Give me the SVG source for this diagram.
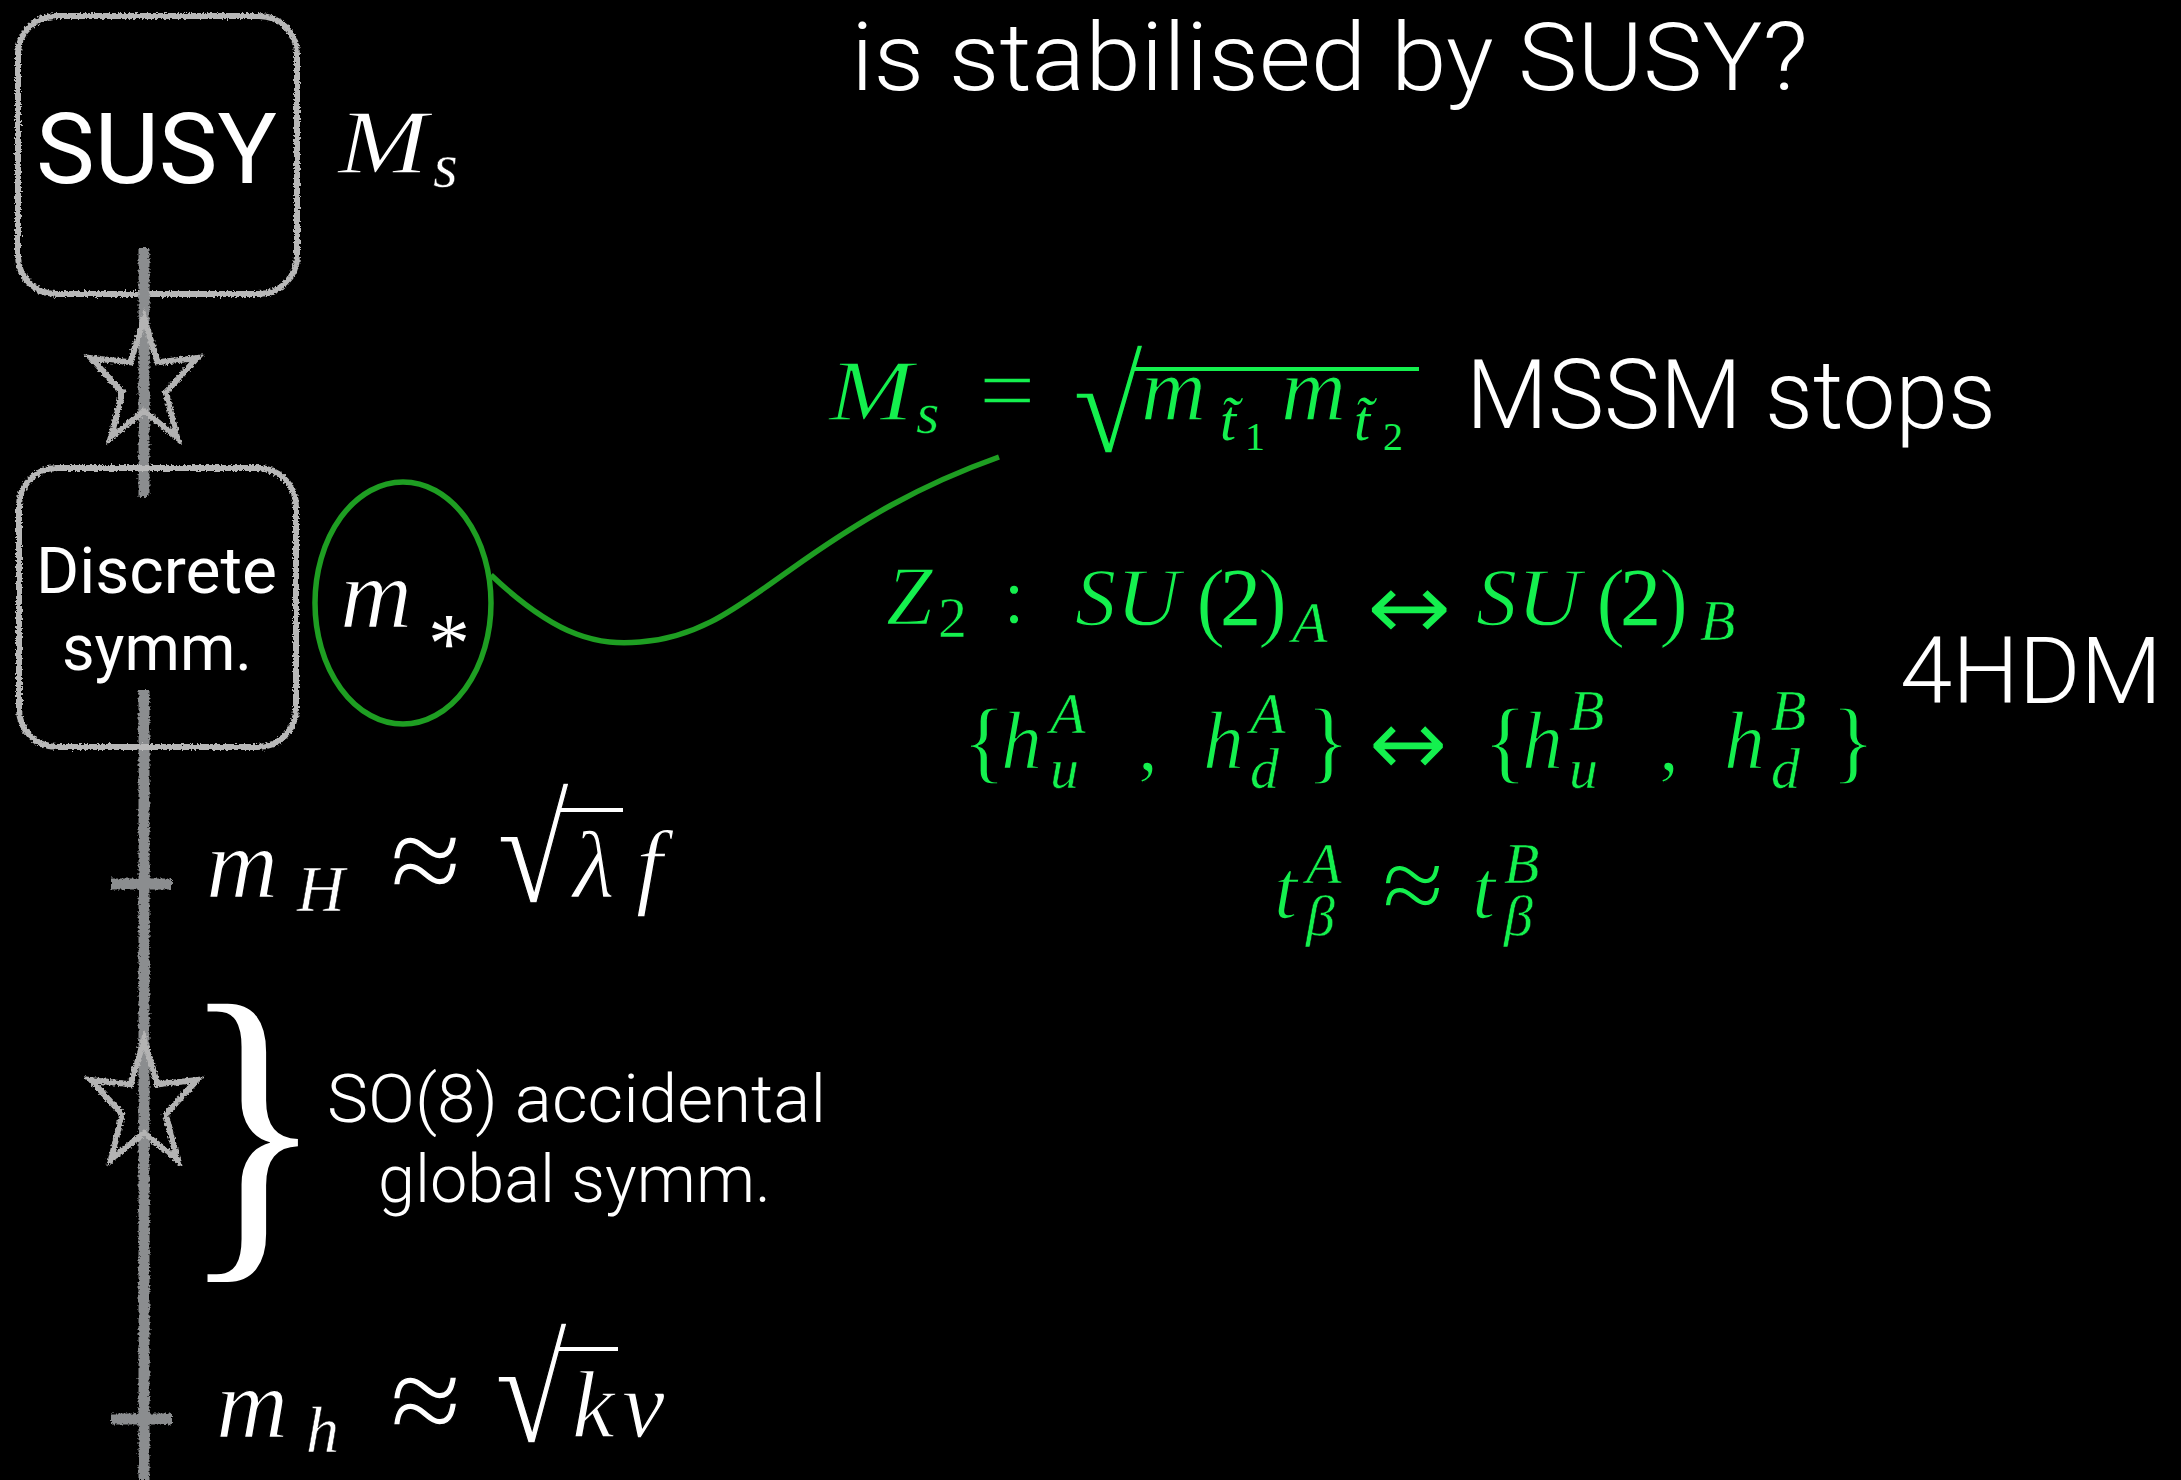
<svg xmlns="http://www.w3.org/2000/svg" width="2181" height="1480" viewBox="0 0 2181 1480">
<defs>
<filter id="chalk" x="-10%" y="-10%" width="120%" height="120%">
<feTurbulence type="fractalNoise" baseFrequency="0.45" numOctaves="2" seed="3" result="n"/>
<feDisplacementMap in="SourceGraphic" in2="n" scale="5" xChannelSelector="R" yChannelSelector="G"/>
</filter>
<polygon id="starShape" points="0,-66 13.5,-21.8 53,-26 21.8,8.3 33,53.4 0,27 -33,53.4 -21.8,8.3 -53,-26 -13.5,-21.8"/>
</defs>
<style>
.sans{font-family:"Helvetica Neue",Roboto,"Liberation Sans",Arial,sans-serif;font-weight:300;fill:#fff}
.reg{font-weight:400}
.math{font-family:"Liberation Serif","Times New Roman",serif;font-style:normal;stroke:#000;stroke-width:0}
.arr{font-family:"DejaVu Sans","Liberation Sans",sans-serif;font-style:normal}
.it{font-style:italic}
.th{stroke-width:1.3}
.md{stroke-width:0.5}
.wh{fill:#fff}
.gr{fill:#14f04e}
.box{fill:none;stroke:#b8b8b8;stroke-width:6}
.axis{stroke:#8b8d8f;stroke-width:11;fill:none}
.star{fill:none;stroke:#b3b3b3;stroke-width:6;stroke-linejoin:miter}
.link{fill:none;stroke:#1e9e22;stroke-width:5.5}
.vinW{stroke:#fff;stroke-width:4}
.vinG{stroke:#14f04e;stroke-width:4}
</style>
<rect width="2181" height="1480" fill="#000"/>

<g id="title">
<text class="sans" x="851" y="90" font-size="95" textLength="957" lengthAdjust="spacingAndGlyphs">is stabilised by SUSY?</text>
</g>

<g id="node-susy">
<rect class="box" x="18" y="16" width="279" height="278" rx="38" filter="url(#chalk)"/>
<text class="sans reg" x="36" y="183" font-size="98" textLength="241" lengthAdjust="spacingAndGlyphs">SUSY</text>
</g>
<g id="label-Ms">
<text class="math wh"><tspan class="it th" x="338" y="173" font-size="92" textLength="90" lengthAdjust="spacingAndGlyphs">M</tspan><tspan class="it md" x="433" y="187" font-size="64">s</tspan></text>
</g>

<g id="scale-axis" filter="url(#chalk)">
<line class="axis" x1="144" y1="248" x2="144" y2="497"/>
<line class="axis" x1="144" y1="690" x2="144" y2="1480"/>
<line class="axis" x1="111" y1="884" x2="172" y2="884" stroke-width="10"/>
<line class="axis" x1="111" y1="1419" x2="172" y2="1419" stroke-width="10"/>
</g>

<g id="node-star1" filter="url(#chalk)">
<use href="#starShape" class="star" transform="translate(144,384)"/>
</g>
<g id="node-star2" filter="url(#chalk)">
<use href="#starShape" class="star" transform="translate(144,1106)"/>
</g>

<g id="node-discrete">
<rect class="box" x="19" y="468" width="277" height="279" rx="38" filter="url(#chalk)"/>
<text class="sans reg" x="36" y="593" font-size="64" textLength="241" lengthAdjust="spacingAndGlyphs">Discrete</text>
<text class="sans reg" x="62" y="670" font-size="64" textLength="190" lengthAdjust="spacingAndGlyphs">symm.</text>
</g>

<g id="node-mstar">
<ellipse cx="403" cy="603" rx="88" ry="121" fill="none" stroke="#1e9e22" stroke-width="5.5"/>
<text class="math wh"><tspan class="it th" x="340" y="627" font-size="100">m</tspan><tspan x="428" y="672" font-size="84">*</tspan></text>
</g>

<g id="connectors">
<path class="link" d="M491,575 C560,640 600,645 640,642 C700,638 740,605 790,570 C860,520 920,485 999,457"/>
</g>

<g id="node-mH">
<text class="math wh"><tspan class="it th" x="206" y="897" font-size="100">m</tspan><tspan class="it md" x="297" y="911" font-size="66">H</tspan><tspan class="th" x="390" y="904" font-size="130">≈</tspan><tspan class="th" x="497" y="902" font-size="150" textLength="72" lengthAdjust="spacingAndGlyphs">√</tspan><tspan class="it th" x="573" y="897" font-size="96">λ</tspan><tspan class="it th" x="636" y="897" font-size="96">f</tspan></text>
<line class="vinW" x1="560" y1="810" x2="623" y2="810"/>
</g>

<g id="node-so8">
<text class="math wh" x="0" y="0" font-size="300" stroke-width="1.2" transform="translate(180,1237) scale(1.01,1.12)">}</text>
<text class="sans" x="327" y="1122" font-size="66" textLength="499" lengthAdjust="spacingAndGlyphs">SO(8) accidental</text>
<text class="sans" x="378" y="1202" font-size="66" textLength="393" lengthAdjust="spacingAndGlyphs">global symm.</text>
</g>

<g id="node-mh">
<text class="math wh"><tspan class="it th" x="216" y="1437" font-size="100">m</tspan><tspan class="it md" x="306" y="1452" font-size="66">h</tspan><tspan class="th" x="390" y="1444" font-size="130">≈</tspan><tspan class="th" x="495" y="1442" font-size="150" textLength="72" lengthAdjust="spacingAndGlyphs">√</tspan><tspan class="it th" x="572" y="1437" font-size="96">k</tspan><tspan class="it th" x="622" y="1437" font-size="96">v</tspan></text>
<line class="vinW" x1="558" y1="1349" x2="618" y2="1349"/>
</g>

<g id="node-ms-formula">
<text class="math gr"><tspan class="it th" x="829" y="420" font-size="86" textLength="84" lengthAdjust="spacingAndGlyphs">M</tspan><tspan class="it md" x="916" y="433" font-size="60">s</tspan><tspan class="th" x="979" y="424" font-size="100">=</tspan><tspan class="th" x="1073" y="452" font-size="135" textLength="70" lengthAdjust="spacingAndGlyphs">√</tspan><tspan class="it th" x="1141" y="420" font-size="90">m</tspan><tspan class="it" x="1220" y="440" font-size="58">t&#x303;</tspan><tspan x="1245" y="450" font-size="40">1</tspan><tspan class="it th" x="1281" y="420" font-size="90">m</tspan><tspan class="it" x="1354" y="440" font-size="58">t&#x303;</tspan><tspan x="1383" y="450" font-size="40">2</tspan></text>
<line class="vinG" x1="1132" y1="369" x2="1419" y2="369"/>
<text class="sans" x="1466" y="428" font-size="96" textLength="530" lengthAdjust="spacingAndGlyphs">MSSM stops</text>
</g>

<g id="node-z2">
<text class="math gr"><tspan class="it th" x="886" y="625" font-size="84">Z</tspan><tspan class="md" x="938" y="637" font-size="58">2</tspan><tspan class="th" x="1003" y="623" font-size="80">:</tspan><tspan class="it th" x="1075" y="625" font-size="82">S</tspan><tspan class="it th" x="1116" y="625" font-size="82" textLength="64" lengthAdjust="spacingAndGlyphs">U</tspan><tspan class="th" x="1196" y="630" font-size="88">(</tspan><tspan x="1220" y="625" font-size="82">2</tspan><tspan class="th" x="1258" y="630" font-size="88">)</tspan><tspan class="it md" x="1292" y="642" font-size="58">A</tspan><tspan class="arr th" x="1366" y="640" font-size="96" textLength="86" lengthAdjust="spacingAndGlyphs">↔</tspan><tspan class="it th" x="1476" y="625" font-size="82">S</tspan><tspan class="it th" x="1517" y="625" font-size="82" textLength="64" lengthAdjust="spacingAndGlyphs">U</tspan><tspan class="th" x="1596" y="630" font-size="88">(</tspan><tspan x="1620" y="625" font-size="82">2</tspan><tspan class="th" x="1659" y="630" font-size="88">)</tspan><tspan class="it md" x="1700" y="640" font-size="58">B</tspan></text>
</g>

<g id="node-higgs-swap">
<text class="math gr"><tspan class="th" x="962" y="772" font-size="92">{</tspan><tspan class="it th" x="1001" y="768" font-size="82">h</tspan><tspan class="it md" x="1050" y="733" font-size="58">A</tspan><tspan class="it md" x="1050" y="788" font-size="58">u</tspan><tspan class="th" x="1138" y="770" font-size="80">,</tspan><tspan class="it th" x="1203" y="768" font-size="82">h</tspan><tspan class="it md" x="1250" y="733" font-size="58">A</tspan><tspan class="it md" x="1250" y="788" font-size="58">d</tspan><tspan class="th" x="1306" y="772" font-size="92">}</tspan><tspan class="arr th" x="1368" y="776" font-size="96" textLength="80" lengthAdjust="spacingAndGlyphs">↔</tspan><tspan class="th" x="1483" y="772" font-size="92">{</tspan><tspan class="it th" x="1522" y="768" font-size="82">h</tspan><tspan class="it md" x="1569" y="730" font-size="58">B</tspan><tspan class="it md" x="1569" y="788" font-size="58">u</tspan><tspan class="th" x="1659" y="770" font-size="80">,</tspan><tspan class="it th" x="1724" y="768" font-size="82">h</tspan><tspan class="it md" x="1771" y="730" font-size="58">B</tspan><tspan class="it md" x="1771" y="788" font-size="58">d</tspan><tspan class="th" x="1831" y="772" font-size="92">}</tspan></text>
</g>

<g id="node-tanbeta">
<text class="math gr"><tspan class="it th" x="1274" y="918" font-size="84">t</tspan><tspan class="it md" x="1306" y="883" font-size="58">A</tspan><tspan class="it md" x="1306" y="935" font-size="58">β</tspan><tspan class="th" x="1382" y="922" font-size="110" textLength="62" lengthAdjust="spacingAndGlyphs">≈</tspan><tspan class="it th" x="1472" y="918" font-size="84">t</tspan><tspan class="it md" x="1504" y="883" font-size="58">B</tspan><tspan class="it md" x="1504" y="935" font-size="58">β</tspan></text>
</g>

<g id="label-4hdm">
<text class="sans" x="1900" y="703" font-size="92" textLength="262" lengthAdjust="spacingAndGlyphs">4HDM</text>
</g>
</svg>
